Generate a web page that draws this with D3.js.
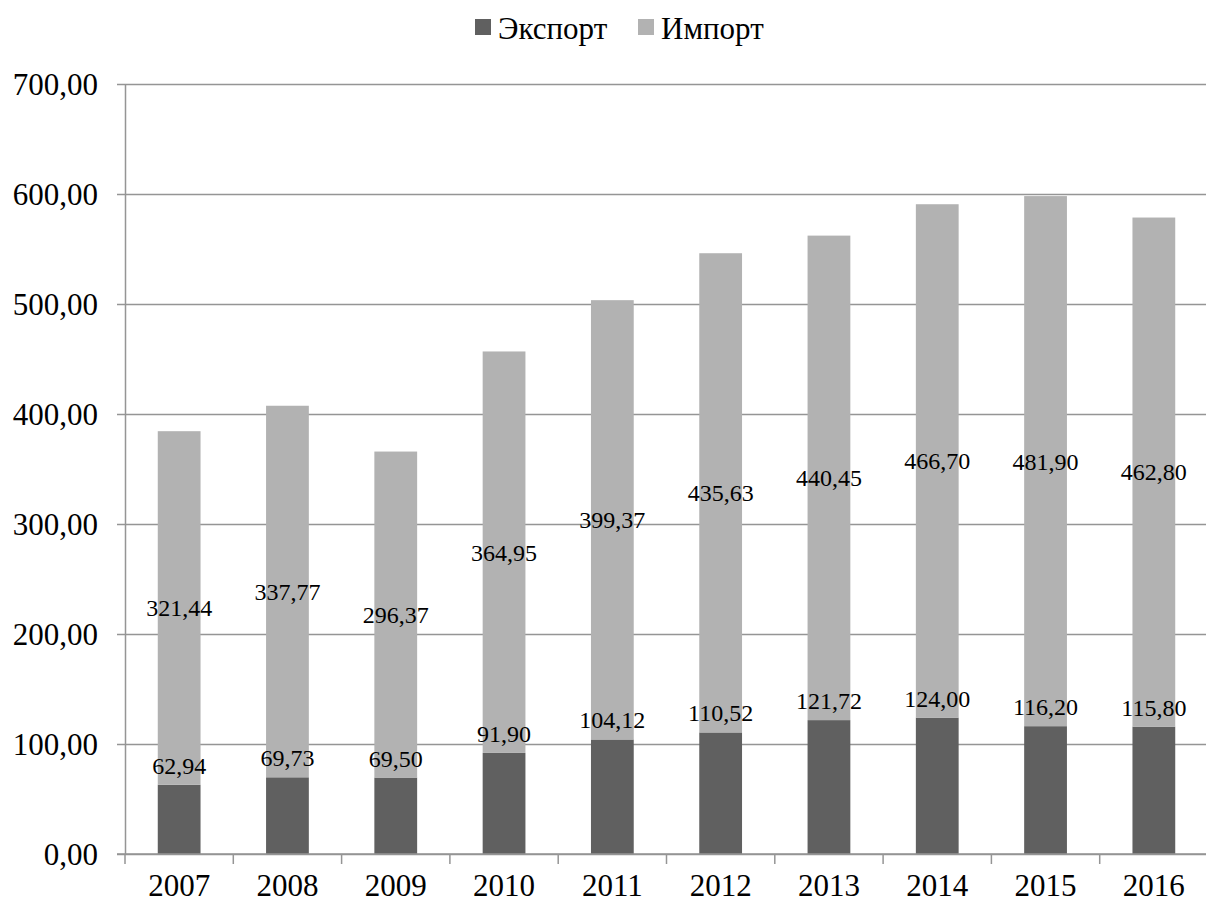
<!DOCTYPE html>
<html>
<head>
<meta charset="utf-8">
<script src="https://cdn.jsdelivr.net/npm/d3@7"></script>
<style>
  html, body { margin: 0; padding: 0; background: #fff; }
  svg text { font-family: "Liberation Serif", "Times New Roman", serif; fill: #000; }
</style>
</head>
<body>
<svg id="chart" width="1206" height="904"></svg>
<script>
// Foreign trade, 2007–2016
const years = ["2007", "2008", "2009", "2010", "2011", "2012", "2013", "2014", "2015", "2016"];
const exportValues = [62.94, 69.73, 69.50, 91.90, 104.12, 110.52, 121.72, 124.00, 116.20, 115.80];
const importValues = [321.44, 337.77, 296.37, 364.95, 399.37, 435.63, 440.45, 466.70, 481.90, 462.80];
const seriesNames = ["Экспорт", "Импорт"];
const yTicks = [0, 100, 200, 300, 400, 500, 600, 700];

const colors = { export: "#606060", import: "#b2b2b2", grid: "#959595" };
const fmt = v => v.toFixed(2).replace(".", ",");

const svg = d3.select("#chart");
const margin = { left: 125, right: -2, top: 84, bottom: 50 };
const W = 1206, H = 904;

const x = d3.scaleBand()
  .domain(years)
  .range([margin.left, W - margin.right])
  .paddingInner(0.605)
  .paddingOuter(0.3025);

const y = d3.scaleLinear()
  .domain([0, 700])
  .range([H - margin.bottom, margin.top]);

// Gridlines with left-side tick stubs
const yAxis = d3.axisLeft(y)
  .tickValues(yTicks)
  .tickSize(-(W - margin.left))
  .tickSizeOuter(0)
  .tickPadding(27)
  .tickFormat(fmt);

const gy = svg.append("g")
  .attr("transform", `translate(${margin.left},0)`)
  .call(yAxis);
gy.select(".domain").remove();
gy.selectAll(".tick line")
  .attr("x1", -8)
  .attr("stroke", colors.grid)
  .attr("stroke-width", 1.5);
gy.selectAll(".tick text")
  .attr("font-size", 31)
  .attr("font-family", "Liberation Serif, serif")
  .attr("dy", "0.34em");

// Stacked bars
const stackData = years.map((yr, i) => ({ year: yr, exp: exportValues[i], imp: importValues[i] }));

svg.append("g").selectAll("rect.exp")
  .data(stackData).join("rect")
  .attr("x", d => x(d.year))
  .attr("width", x.bandwidth())
  .attr("y", d => y(d.exp))
  .attr("height", d => y(0) - y(d.exp))
  .attr("fill", colors.export);

svg.append("g").selectAll("rect.imp")
  .data(stackData).join("rect")
  .attr("x", d => x(d.year))
  .attr("width", x.bandwidth())
  .attr("y", d => y(d.exp + d.imp))
  .attr("height", d => y(d.exp) - y(d.exp + d.imp))
  .attr("fill", colors.import);

// Vertical axis line
svg.append("line")
  .attr("x1", margin.left + 0.5).attr("x2", margin.left + 0.5)
  .attr("y1", y(700)).attr("y2", y(0))
  .attr("stroke", colors.grid).attr("stroke-width", 1.5);

// Category axis: baseline plus boundary ticks
const step = x.step();
const bounds = d3.range(years.length + 1).map(i => margin.left + i * step);
svg.append("line")
  .attr("x1", margin.left - 8).attr("x2", W)
  .attr("y1", y(0)).attr("y2", y(0))
  .attr("stroke", colors.grid).attr("stroke-width", 1.5);
svg.append("g").selectAll("line")
  .data(bounds).join("line")
  .attr("x1", d => d).attr("x2", d => d)
  .attr("y1", y(0)).attr("y2", y(0) + 10)
  .attr("stroke", colors.grid).attr("stroke-width", 1.5);

svg.append("g").selectAll("text")
  .data(years).join("text")
  .attr("x", d => x(d) + x.bandwidth() / 2)
  .attr("y", 896)
  .attr("text-anchor", "middle")
  .attr("font-size", 31)
  .text(d => d);

// Value labels
svg.append("g").selectAll("text")
  .data(stackData).join("text")
  .attr("x", d => x(d.year) + x.bandwidth() / 2)
  .attr("y", d => y(d.exp + d.imp / 2))
  .attr("dy", "0.35em")
  .attr("text-anchor", "middle")
  .attr("font-size", 24)
  .text(d => fmt(d.imp));

svg.append("g").selectAll("text")
  .data(stackData).join("text")
  .attr("x", d => x(d.year) + x.bandwidth() / 2)
  .attr("y", d => y(d.exp) - 11)
  .attr("text-anchor", "middle")
  .attr("font-size", 24)
  .text(d => fmt(d.exp));

// Legend
const legend = svg.append("g");
const legendItems = [
  { name: seriesNames[0], color: colors.export, x: 475 },
  { name: seriesNames[1], color: colors.import, x: 638 }
];
legendItems.forEach(it => {
  legend.append("rect")
    .attr("x", it.x).attr("y", 19)
    .attr("width", 16).attr("height", 16)
    .attr("fill", it.color);
  legend.append("text")
    .attr("x", it.x + 23).attr("y", 39)
    .attr("font-size", 31)
    .text(it.name);
});
</script>
</body>
</html>
